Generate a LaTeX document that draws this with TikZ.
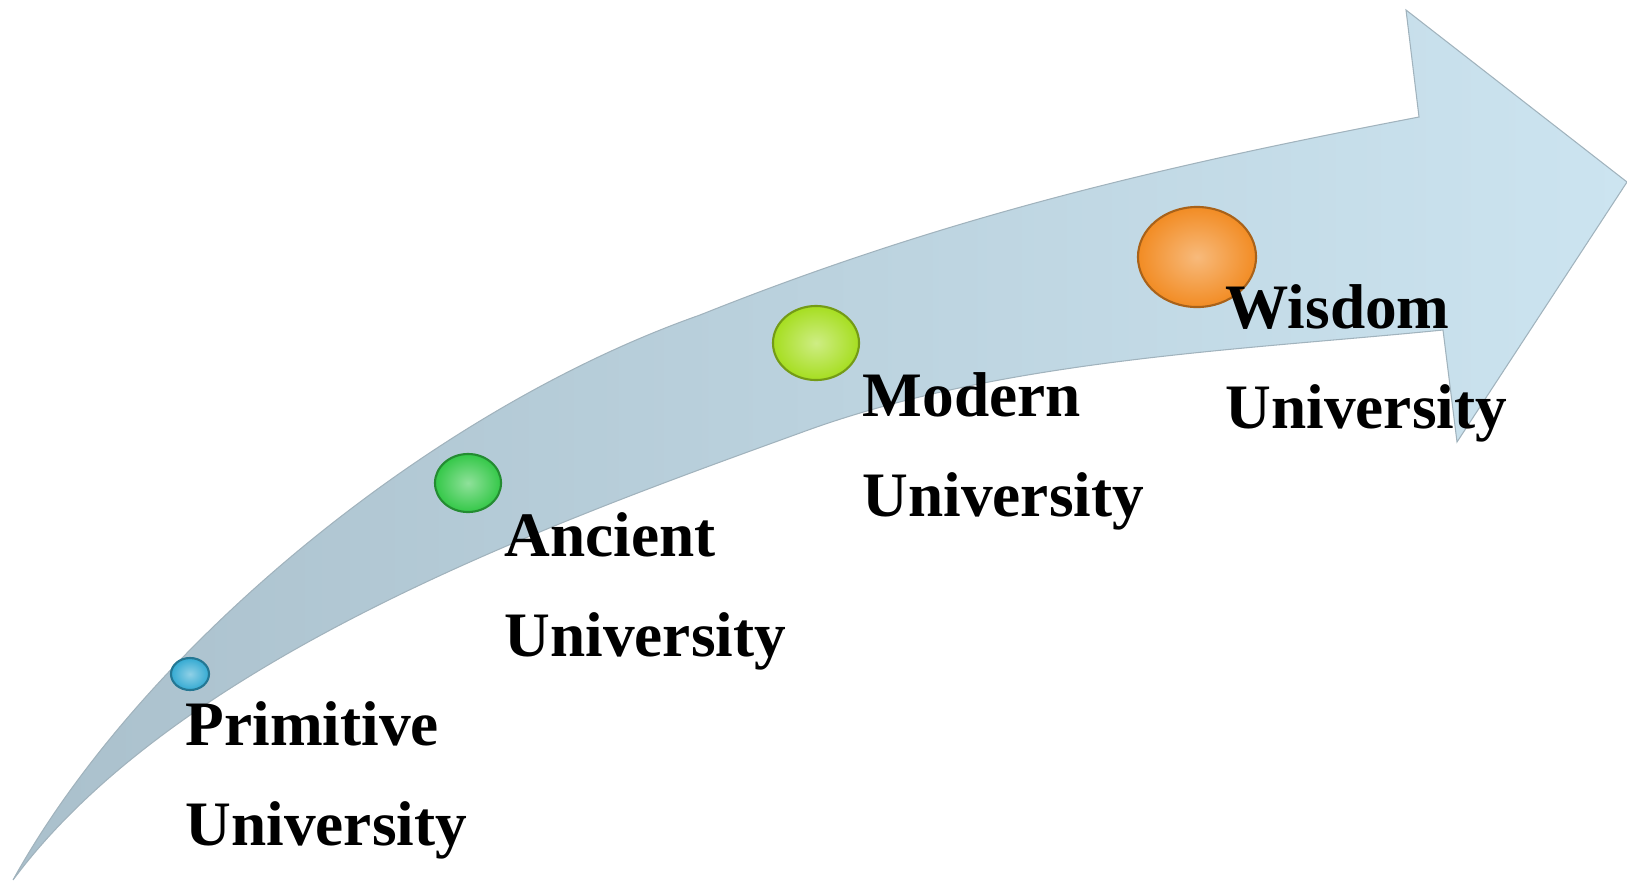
\documentclass[tikz,border=0pt]{standalone}
\usepackage{fontspec}
\setmainfont{Liberation Serif}
\usetikzlibrary{shapes.geometric}
\definecolor{bandgray}{RGB}{170,192,204}
\definecolor{bandblue}{RGB}{204,228,240}
\definecolor{dotblue}{RGB}{52,170,210}
\definecolor{dotgreen}{RGB}{52,200,72}
\definecolor{dotlime}{RGB}{166,222,32}
\definecolor{dotorange}{RGB}{242,140,36}
\tikzstyle{dotbtn}=[ellipse,inner sep=0pt,line width=0.6pt]
\tikzstyle{stage}=[anchor=base west,align=left,inner sep=0pt,font=\bfseries\fontsize{18}{28.3}\selectfont]

\begin{document}
\begin{tikzpicture}[x=0.01cm,y=-0.01cm]
    \useasboundingbox (0,0) rectangle (1627,881);
    \shade[left color=bandgray,right color=bandblue,draw=bandgray!80!gray,line width=0.3pt]
      (13,880) .. controls (140,650) and (430,410) .. (700,315)
      .. controls (950,215) and (1169,165) .. (1419,117)
      -- (1406,10) -- (1627,182) -- (1457,442) -- (1443,330)
      .. controls (1243,350) and (1000,359) .. (800,433)
      .. controls (560,520) and (180,655) .. (13,880)
      -- cycle;

    \node[dotbtn,minimum width=0.38cm,minimum height=0.32cm,inner color=dotblue!55!white,outer color=dotblue,draw=dotblue!70!black] (d1) at (190,674) {};
    \node[dotbtn,minimum width=0.66cm,minimum height=0.58cm,inner color=dotgreen!55!white,outer color=dotgreen,draw=dotgreen!70!black] (d2) at (468,483) {};
    \node[dotbtn,minimum width=0.86cm,minimum height=0.74cm,inner color=dotlime!55!white,outer color=dotlime,draw=dotlime!70!black] (d3) at (816,343) {};
    \node[dotbtn,minimum width=1.18cm,minimum height=1.00cm,inner color=dotorange!60!white,outer color=dotorange,draw=dotorange!70!black] (d4) at (1197,257) {};

    \node[stage] (s1) at (185,845) {Primitive\\University};
    \node[stage] (s2) at (504,656) {Ancient\\University};
    \node[stage] (s3) at (862,516) {Modern\\University};
    \node[stage] (s4) at (1225,428) {Wisdom\\University};
\end{tikzpicture}
\end{document}
